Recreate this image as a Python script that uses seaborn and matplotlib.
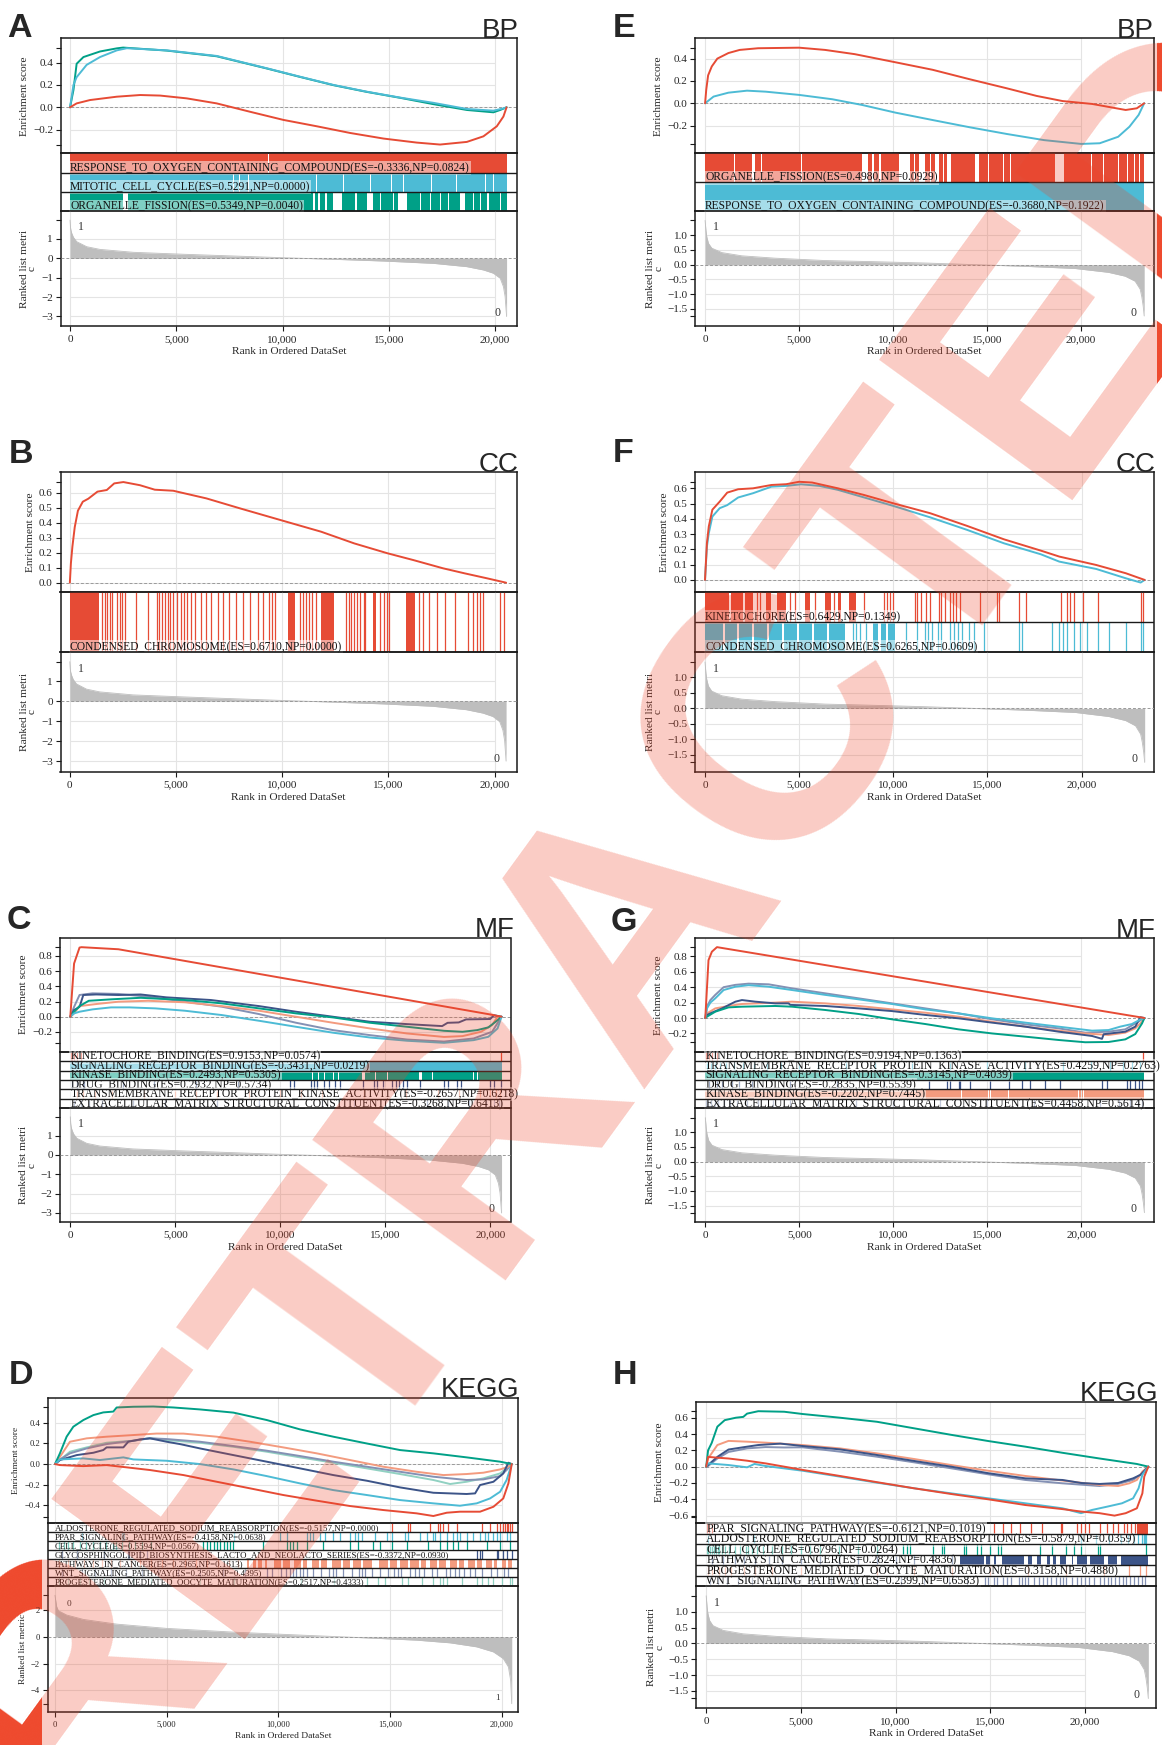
import numpy as np
import pandas as pd
import seaborn as sns
import matplotlib
matplotlib.use("Agg")
import matplotlib.pyplot as plt
from matplotlib.patches import Rectangle

sns.set_theme(style="white")
plt.rcParams["font.family"] = ["Liberation Serif", "DejaVu Serif"]
plt.rcParams["axes.unicode_minus"] = True

W, H = 1162, 1745
RED, BLUE, GREEN, NAVY, SALMON, LAV, MINT = ("#E64B35", "#4DBBD5", "#00A087", "#3C5488",
                                             "#F39B7F", "#8491B4", "#91D1C2")

# ---------------------------------------------------------------- ranked list metrics
METRIC1_rank = [0, 20, 40, 80, 160, 310, 780, 1410, 2980, 5330, 7690, 10040, 12390, 14750,
                17100, 18670, 19450, 19920, 20240, 20390, 20470, 20540]
METRIC1_val = [1.97, 1.6, 1.45, 1.29, 1.08, 0.86, 0.6, 0.46, 0.31, 0.21, 0.12, 0.03, -0.05, -0.14,
               -0.26, -0.43, -0.6, -0.77, -1.03, -1.46, -1.97, -3.0]
METRIC2_rank = [0, 45, 90, 180, 355, 890, 1950, 3720, 6380, 9040, 11700, 14360, 17020, 19680,
                21450, 22340, 22870, 23140, 23230, 23300, 23355]
METRIC2_val = [1.5, 1.15, 0.94, 0.72, 0.56, 0.41, 0.3, 0.22, 0.14, 0.1, 0.056, 0.0, -0.056, -0.13,
               -0.26, -0.39, -0.56, -0.83, -1.1, -1.4, -1.74]
METRICD_rank = [0, 40, 75, 150, 520, 1270, 2760, 5000, 7990, 10970, 13960, 16190, 17690, 18880,
                19630, 20070, 20300, 20400, 20450]
METRICD_val = [3.1, 2.6, 2.25, 1.95, 1.63, 1.3, 0.95, 0.63, 0.35, 0.13, -0.08, -0.25, -0.45, -0.75,
               -1.13, -1.63, -2.25, -3.25, -5.0]

# ---------------------------------------------------------------- panel A (BP)
A_es_response = [(0, 0), (310, 0.035), (940, 0.065), (2200, 0.095), (3300, 0.11), (4240, 0.105),
                 (5490, 0.08), (6900, 0.035), (8470, -0.04), (10040, -0.113), (11610, -0.17),
                 (13180, -0.23), (14750, -0.28), (16310, -0.316), (17410, -0.3336), (18670, -0.31),
                 (19450, -0.26), (20080, -0.17), (20390, -0.083), (20540, 0)]
A_es_mitotic = [(0, 0), (160, 0.2), (310, 0.27), (780, 0.38), (1410, 0.45), (2200, 0.51),
                (2670, 0.5291), (4550, 0.51), (6900, 0.46), (9250, 0.35), (10800, 0.275),
                (12400, 0.2), (13960, 0.14), (15530, 0.087), (17100, 0.04), (18670, -0.015),
                (19920, -0.03), (20390, -0.01), (20540, 0)]
A_es_organelle = [(0, 0), (160, 0.155), (310, 0.39), (630, 0.45), (1410, 0.5), (2200, 0.528),
                  (2500, 0.5349), (4550, 0.508), (6900, 0.457), (9250, 0.348), (10800, 0.273),
                  (12400, 0.198), (13960, 0.138), (15530, 0.085), (17100, 0.028), (18670, -0.024),
                  (19920, -0.045), (20240, -0.024), (20540, 0)]
A_gaps_response = [(9300, 9350)]
A_gaps_mitotic = [(7670, 7710), (7950, 7990), (8370, 8410), (11590, 11640), (12840, 12880),
                  (14100, 14140), (15120, 15160), (15670, 15710), (17000, 17040), (17390, 17430),
                  (18180, 18220), (19510, 19550), (19900, 19940)]
A_gaps_organelle = [(2510, 2745), (11420, 11530), (11690, 11765), (12000, 12080), (12390, 12780),
                    (13410, 13490), (13960, 14270), (14590, 14635), (15180, 15250), (15450, 15840),
                    (16470, 16520), (16940, 16970), (17410, 17460), (17800, 17850), (18350, 18590),
                    (18980, 19030), (19300, 19330), (19640, 19690), (20240, 20290)]

# ---------------------------------------------------------------- panel B (CC)
B_es_condensed = [(0, 0), (50, 0.13), (120, 0.24), (230, 0.37), (380, 0.48), (610, 0.54),
                  (870, 0.56), (1300, 0.607), (1740, 0.618), (2090, 0.662), (2520, 0.671),
                  (3300, 0.65), (4000, 0.62), (4870, 0.613), (6430, 0.562), (8000, 0.496),
                  (9910, 0.418), (11830, 0.34), (13390, 0.262), (14960, 0.196), (16170, 0.151),
                  (17570, 0.096), (18600, 0.062), (19650, 0.029), (20540, 0)]
B_hits_condensed = [(0, 1390), 1530, 1650, 1740, 1880, 2000, 2230, 2350, 2470, 2610, 3100, 3690,
                    4090, 4210, 4350, 4470, 4610, 4730, 4870, 5040, 5220, 5360, 5530, 5700, 5880,
                    6170, 6430, 6640, 6960, 7220, 7480, 7830, 8170, 8490, 8870, 9080, 9390, 9510,
                    9650, (10260, 10610), 10820, 10960, 11130, 11270, 11390, 11570, (11830, 12430),
                    13010, 13130, 13250, 13390, 13500, 13650, 13830, 13910, (14260, 14430), 14610,
                    14780, 14920, 15040, (15830, 16260), 16430, 16610, 16900, 17300, 17650, 18120,
                    18750, 18960, 19170, 19300, 19440, 20260, 20430]

# ---------------------------------------------------------------- panel C (MF)
C_es_kinetochore = [(0, 0), (180, 0.70), (440, 0.91), (530, 0.9153), (2290, 0.888), (20000, 0.03),
                    (20540, 0)]
C_es_signaling = [(0, 0), (180, 0.044), (440, 0.066), (1060, 0.097), (1940, 0.123), (2820, 0.123),
                  (4050, 0.11), (5460, 0.079), (7220, 0.022), (8990, -0.053), (10750, -0.132),
                  (12510, -0.21), (14270, -0.273), (16040, -0.316), (17800, -0.3431),
                  (19210, -0.308), (19910, -0.264), (20350, -0.154), (20540, 0)]
C_es_kinase = [(0, 0), (180, 0.066), (440, 0.14), (880, 0.21), (1940, 0.229), (3350, 0.2493),
               (5460, 0.22), (7220, 0.176), (8990, 0.11), (10750, 0.044), (12510, -0.009),
               (14270, -0.079), (16040, -0.132), (17800, -0.185), (18680, -0.198), (19380, -0.176),
               (19910, -0.14), (20260, -0.066), (20540, 0)]
C_es_drug = [(0, 0), (180, 0.088), (440, 0.13), (620, 0.286), (1230, 0.2932), (2290, 0.286),
             (3350, 0.293), (4580, 0.255), (6700, 0.22), (8990, 0.14), (10750, 0.066), (12510, 0.0),
             (14270, -0.066), (16040, -0.097), (17710, -0.123), (17970, -0.08), (18500, -0.075),
             (18850, -0.035), (20000, -0.03), (20180, 0.02), (20540, 0)]
C_es_transmembrane = [(0, 0), (180, 0.044), (440, 0.14), (1230, 0.167), (2290, 0.198),
                      (3700, 0.21), (5460, 0.19), (7220, 0.14), (8990, 0.079), (10750, 0.0),
                      (12510, -0.079), (14270, -0.154), (16040, -0.22), (17800, -0.2657),
                      (18680, -0.255), (19560, -0.198), (20090, -0.11), (20350, 0), (20540, 0)]
C_es_extracellular = [(0, 0), (180, 0.13), (440, 0.286), (1060, 0.308), (2290, 0.3), (3700, 0.264),
                      (5460, 0.198), (7220, 0.132), (8990, 0.035), (10750, -0.079),
                      (12510, -0.176), (14270, -0.242), (16040, -0.3), (17800, -0.3268),
                      (19210, -0.286), (20090, -0.198), (20440, -0.044), (20540, 0)]
C_hits_kinetochore = [20, 80, 180, 330, 520, 20510]
C_gaps_signaling = []
C_gaps_kinase = [(11520, 11570), (11790, 11840), (12100, 12150), (12490, 12540), (12760, 12800),
                 (13900, 14020), (14520, 14560), (15100, 15140), (16630, 16750), (17250, 17290),
                 (19190, 19230), (19360, 19400), (19540, 19580)]
C_hits_drug = [100, 300, 600, 650, 2500, 4000, 6000, 8000, 10480, 10660, 11450, 11630, 11770,
               12070, 12330, 12600, 12860, 13920, 14450, 14630, 14890, 15330, 15510, 15680, 15860,
               16040, 16650, 17800, 17970, 18410, 18590, 20000, 20180, 20530]
C_hits_transmembrane = [300, 600, 1200, 2000, 3500, 5000, 6000, 7000, 8500, 10000, 11000, 12000,
                        14000, 16000, 17500, 18500, 19500, 20000, 20300, 20450]
C_hits_extracellular = [200, 500, 900, 1500, 3000, 4500, 7000, 9000, 12000, 13500, 15000, 17000,
                        18000, 19000, 19800, 20200, 20400, 20500]

# ---------------------------------------------------------------- panel D (KEGG)
D_es_aldosterone = [(0, 0), (220, -0.01), (1270, -0.02), (2310, -0.01), (3210, -0.032),
                    (4250, -0.058), (5750, -0.107), (7240, -0.172), (8730, -0.236), (10220, -0.301),
                    (11720, -0.356), (13210, -0.408), (14700, -0.447), (16190, -0.479),
                    (16940, -0.505), (17540, -0.473), (18130, -0.463), (19030, -0.463),
                    (19630, -0.415), (20070, -0.334), (20300, -0.188), (20450, 0)]
D_es_ppar = [(0, 0), (220, 0.045), (1270, 0.055), (2010, 0.039), (3060, 0.065), (3510, 0.045),
             (5000, 0.032), (6490, 0.0), (7990, -0.052), (9480, -0.117), (10970, -0.188),
             (12460, -0.253), (13960, -0.301), (15450, -0.35), (16940, -0.382), (18130, -0.405),
             (18880, -0.382), (19480, -0.334), (19930, -0.269), (20220, -0.155), (20450, 0)]
D_es_cellcycle = [(0, 0), (220, 0.104), (520, 0.266), (820, 0.363), (1270, 0.428), (1720, 0.476),
                  (2160, 0.502), (2610, 0.51), (2760, 0.55), (3510, 0.557), (4400, 0.5594),
                  (5300, 0.55), (6490, 0.531), (7990, 0.5), (9480, 0.428), (10970, 0.337),
                  (12460, 0.266), (13960, 0.2), (15450, 0.136), (16940, 0.104), (18430, 0.065),
                  (19930, 0.023), (20450, 0)]
D_es_glyco = [(0, 0), (220, 0.039), (970, 0.087), (1720, 0.11), (2160, 0.136), (2310, 0.162),
              (3060, 0.162), (3280, 0.217), (3810, 0.24), (4250, 0.25), (5000, 0.217),
              (5600, 0.194), (6490, 0.152), (7990, 0.087), (9480, 0.023), (10970, -0.042),
              (12460, -0.107), (13960, -0.162), (15450, -0.227), (16940, -0.279), (18430, -0.291),
              (18810, -0.285), (19030, -0.204), (19630, -0.172), (20070, -0.091), (20300, 0.013),
              (20450, 0)]
D_es_pathways = [(0, 0), (220, 0.07), (670, 0.217), (1420, 0.25), (2310, 0.266), (3510, 0.282),
                 (4550, 0.2965), (5750, 0.296), (7240, 0.266), (8730, 0.217), (10220, 0.162),
                 (11720, 0.104), (13210, 0.039), (14700, -0.026), (16190, -0.075), (17390, -0.107),
                 (18430, -0.097), (19180, -0.084), (19930, -0.052), (20300, -0.026), (20450, 0)]
D_es_wnt = [(0, 0), (220, 0.045), (670, 0.104), (1420, 0.152), (2310, 0.194), (3510, 0.227),
            (4250, 0.2505), (5000, 0.243), (6490, 0.217), (7990, 0.175), (9480, 0.13),
            (10970, 0.078), (12460, 0.023), (13960, -0.026), (15450, -0.075), (16940, -0.123),
            (18430, -0.155), (19180, -0.149), (19930, -0.117), (20220, -0.058), (20450, 0)]
D_es_progesterone = [(0, 0), (220, 0.039), (670, 0.12), (1420, 0.162), (2310, 0.207),
                     (3510, 0.227), (4250, 0.2517), (5000, 0.233), (6490, 0.207), (7990, 0.168),
                     (9480, 0.12), (10970, 0.065), (12460, 0.013), (13960, -0.042), (15450, -0.097),
                     (16940, -0.155), (17690, -0.194), (18430, -0.172), (19180, -0.139),
                     (19930, -0.091), (20450, 0)]
D_hits_aldosterone = [15070, 15820, 15900, 16790, 17160, 17240, 17390, 17610, 17990, 19100, 19480,
                      19780, 19930, 20070, 20150, 20220, 20300, 20370, 20450]
D_hits_ppar = [1200, 3000, 3050, 3100, 8000, 10070, 10370, 11270, 11420, 11570, 11870, 12090,
               12460, 12760, 13210, 13430, 13580, 13730, 14330, 14850, 15070, 15670, 15820, 16340,
               16640, 16940, 17010, 17240, 17540, 17840, 17990, 18130, 18430, 18730, 19030, 19250,
               19400, 19630, 19780, 19930, 20220, 20370]
D_hits_cellcycle = [200, 400, 600, 800, 1100, 1400, 1700, 2000, 2300, 2600, 2750, 3000, 3300,
                    3600, 3900, 4300, 6640, 6800, 6950, 7100, 7250, 7400, 7550, 7700, 7850, 7990,
                    9330, 10370, 10520, 10670, 10820, 11270, 12010, 13210, 13580, 14250, 14550,
                    15070, 15750, 16720, 17240, 17540, 17840, 18060, 18430, 19330, 19930, 20370]
D_hits_glyco = [300, 1000, 2200, 3250, 3300, 3800, 4100, 18880, 19030, 19100, 19780, 19850, 20070,
                20220, 20450]
D_hits_pathways = [200, 600, 900, 1300, 1700, 2100, 2500, 2900, 3400, 3800, 4300, 4800, 5300,
                   5800, 6300, 6800, 7300, 7800, 8200, (8580, 8700), (8850, 9000), (9100, 9250),
                   (9400, 9500), (9800, 10100), (10200, 10500), (10700, 11000), (11100, 11300),
                   (11500, 11800), (11900, 12200), (12400, 12800), (12900, 13200), (13350, 13700),
                   (13800, 14200), (14500, 14900), (15000, 15300), (15450, 15800), (15900, 16300),
                   (16400, 16600), (16800, 17100), (17200, 17500), (17700, 18000), (18100, 18300),
                   (18500, 18800), (18900, 19100), (19300, 19550), (19650, 19800), (20000, 20200),
                   (20300, 20450)]
D_hits_wnt = [300, 700, 1200, 1800, 2500, 3200, 3900, 4600, 5500, 6500, 7500, 8500, 9500, 9700,
              10100, 10350, 10500, 10650, 10800, 10950, 11100, 11300, 11550, 11900, 12250, 12450,
              12600, 12900, 13300, 13600, 13750, 13900, 14200, 14550, 14900, 15200, 15350, 15500,
              15900, 16100, 16300, 16500, 16900, 17100, 17500, 17700, 17900, 18100, 18300, 18600,
              18800, 19100, 19500, 19800, 20100, 20300]
D_hits_progesterone = [200, 600, 1100, 1500, 2200, 2800, 3500, 4300, 5200, 6500, 8000, 9500,
                       11000, 12500, 13960, 14480, 14780, 15520, 15820, 16420, 16940, 17240, 17390,
                       17540, 18210, 18880, 19100, 19400, 19630, 20000, 20370, 20450]

# ---------------------------------------------------------------- panel E (BP)
E_es_organelle = [(0, 0), (60, 0.12), (160, 0.25), (355, 0.33), (650, 0.40), (1240, 0.45),
                  (1840, 0.478), (2820, 0.493), (5000, 0.498), (6380, 0.478), (7960, 0.44),
                  (10130, 0.367), (12100, 0.3), (14080, 0.215), (16050, 0.134), (17630, 0.066),
                  (19010, 0.02), (20590, -0.006), (21580, -0.036), (22370, -0.06), (22960, -0.045),
                  (23355, 0)]
E_es_response = [(0, 0), (450, 0.06), (1240, 0.095), (2230, 0.113), (3220, 0.104), (5000, 0.075),
                 (6770, 0.036), (8350, -0.015), (10130, -0.084), (12100, -0.15), (14080, -0.215),
                 (16050, -0.275), (18030, -0.33), (20000, -0.364), (20990, -0.358), (21970, -0.3),
                 (22570, -0.21), (23060, -0.104), (23355, 0)]
E_gaps_organelle = [(1520, 1580), (2500, 2650), (2950, 3000), (5100, 5150), (8350, 8650),
                    (8900, 8980), (9250, 9350), (10300, 10900), (11100, 11180), (11400, 11700),
                    (11950, 12020), (12250, 12450), (12650, 12700), (12850, 13100), (14350, 14550),
                    (15050, 15120), (15850, 15920), (16200, 16260), (18600, 19100), (20550, 20600),
                    (21150, 21200), (21950, 22000), (22450, 22520), (22800, 22850), (23100, 23150)]
E_gaps_response = []

# ---------------------------------------------------------------- panel F (CC)
F_es_kinetochore = [(0, 0), (100, 0.24), (200, 0.35), (390, 0.46), (780, 0.513), (1180, 0.572),
                    (1760, 0.594), (2550, 0.6), (3530, 0.622), (4310, 0.627), (5000, 0.6429),
                    (5690, 0.638), (7060, 0.6), (8430, 0.557), (10000, 0.502), (11960, 0.437),
                    (13920, 0.354), (15880, 0.266), (17840, 0.192), (18820, 0.153), (20780, 0.098),
                    (22350, 0.044), (23355, 0.0)]
F_es_condensed = [(0, 0), (100, 0.218), (200, 0.306), (390, 0.415), (780, 0.47), (1180, 0.49),
                  (1760, 0.54), (2550, 0.568), (3530, 0.611), (4310, 0.616), (5100, 0.6265),
                  (6080, 0.616), (7060, 0.59), (8430, 0.541), (10000, 0.485), (11960, 0.41),
                  (13920, 0.328), (15880, 0.24), (17840, 0.168), (18820, 0.12), (20780, 0.072),
                  (22350, 0.011), (23140, -0.017), (23355, 0)]
F_hits_kinetochore = [(0, 1250), (1400, 2000), (2150, 2550), 2750, 2940, (3240, 3530), (3820, 4310),
                      4510, 4800, (5290, 5590), 5840, (6370, 6670), 6860, (7060, 7250), (7650, 8040),
                      8430, 9510, 9650, 9800, 9960, 11180, 11270, 11470, 11760, 11960, 12450, 12550,
                      12750, 13040, 13180, 13330, 13530, 14610, 15490, 15590, 16670, 17060, 18920,
                      19220, 19410, 19610, 20100, 20880, 23140, 23290]
F_hits_condensed = [(0, 950), (1050, 1700), (1800, 2500), (2600, 3300), (3400, 4100), (4200, 4900),
                    (5000, 5700), (5800, 6500), (6600, 7450), 7840, 8040, 8240, 8530, (8920, 9200),
                    (9350, 9600), (9700, 10100), 10690, 11270, 11670, 11860, 12060, 12350, 12550,
                    13040, 13240, 13430, 13630, 14020, 14310, 14800, 16670, 16860, 18430, 18820,
                    19020, 19220, 19610, 19900, 20290, 20880, 21470, 22350, 23140, 23290]

# ---------------------------------------------------------------- panel G (MF)
G_es_kinetochore = [(0, 0), (170, 0.75), (350, 0.86), (620, 0.9194), (23000, 0.015), (23355, 0)]
G_es_transmembrane = [(0, 0), (90, 0.125), (270, 0.2), (530, 0.255), (975, 0.363), (1600, 0.406),
                      (2300, 0.4259), (3370, 0.406), (4610, 0.363), (6380, 0.3), (8160, 0.242),
                      (9930, 0.182), (11700, 0.112), (13470, 0.06), (15250, -0.004),
                      (17020, -0.06), (18790, -0.112), (20570, -0.164), (21450, -0.156),
                      (22070, -0.112), (22690, -0.078), (23140, -0.02), (23355, 0)]
G_es_signaling = [(0, 0), (90, 0.017), (530, 0.082), (1240, 0.138), (1950, 0.147), (3720, 0.156),
                  (4610, 0.147), (6380, 0.104), (8160, 0.052), (9930, -0.017), (11700, -0.078),
                  (13470, -0.147), (15250, -0.2), (17020, -0.242), (18790, -0.285),
                  (20210, -0.3145), (21450, -0.311), (22340, -0.277), (22870, -0.208),
                  (23230, -0.07), (23355, 0)]
G_es_drug = [(0, 0), (90, 0.04), (355, 0.07), (890, 0.125), (1600, 0.212), (1950, 0.233),
             (2660, 0.212), (3720, 0.19), (4430, 0.19), (4520, 0.17), (6380, 0.156), (8160, 0.125),
             (9930, 0.09), (11700, 0.04), (13470, -0.004), (15250, -0.06), (17020, -0.112),
             (18790, -0.177), (20570, -0.233), (21100, -0.27), (21190, -0.21), (22340, -0.177),
             (22870, -0.112), (23140, 0.01), (23355, 0)]
G_es_kinase = [(0, 0), (90, 0.06), (530, 0.125), (1240, 0.156), (1950, 0.182), (3720, 0.2),
               (4610, 0.212), (6380, 0.19), (8160, 0.156), (9930, 0.112), (11700, 0.069),
               (13470, 0.017), (15250, -0.048), (17020, -0.112), (18790, -0.164), (20210, -0.2),
               (21450, -0.2202), (22340, -0.19), (22870, -0.134), (23230, -0.048), (23355, 0)]
G_es_extracellular = [(0, 0), (90, 0.147), (270, 0.233), (530, 0.3), (975, 0.4), (1600, 0.43),
                      (2300, 0.4458), (3370, 0.437), (4610, 0.385), (6380, 0.32), (8160, 0.255),
                      (9930, 0.19), (11700, 0.125), (13470, 0.06), (15250, -0.017),
                      (17020, -0.082), (18790, -0.134), (20210, -0.19), (21450, -0.177),
                      (22340, -0.147), (22870, -0.07), (23355, 0)]
G_hits_kinetochore = [30, 100, 200, 350, 620, 23300]
G_hits_transmembrane = [100, 300, 500, 800, 1100, 1500, 2000, 2600, 3300, 4000, 5000, 6000, 7500,
                        9000, 11000, 13000, 15000, 17000, 19000, 20500, 21500, 22200, 22700, 23100]
G_gaps_signaling = []
G_hits_drug = [200, 600, 900, 1400, 1800, 2500, 4500, 7000, 9500, 11880, 12850, 13030, 13480,
               13560, 14100, 15160, 16130, 16840, 17290, 18090, 18880, 21100, 21360, 22430, 22610,
               22870, 23050, 23230]
G_gaps_kinase = [(13620, 13680), (15040, 15100), (15140, 15190), (16100, 16160), (19830, 19890),
                 (19970, 20030), (20090, 20150)]
G_hits_extracellular = [50, 150, 300, 500, 700, 1000, 1300, 1700, 2200, 2800, 3600, 4500, 6000,
                        8000, 10000, 12500, 15000, 17500, 19500, 21000, 22000, 22600, 23000, 23250]

# ---------------------------------------------------------------- panel H (KEGG)
H_es_ppar = [(0, 0), (100, 0.12), (590, 0.11), (1180, 0.1), (2160, 0.073), (3140, 0.04),
             (5100, -0.04), (7060, -0.114), (9020, -0.19), (10980, -0.265), (12940, -0.335),
             (14900, -0.4), (16860, -0.47), (18820, -0.52), (19800, -0.55), (20780, -0.57),
             (21570, -0.6), (22160, -0.57), (22750, -0.51), (23040, -0.327), (23140, -0.122),
             (23355, 0)]
H_es_aldosterone = [(0, 0), (100, 0.04), (1180, 0.02), (2160, -0.008), (2550, 0.033),
                    (3140, 0.008), (5100, -0.05), (7060, -0.122), (9020, -0.196), (10980, -0.265),
                    (12940, -0.327), (14900, -0.388), (16860, -0.449), (18820, -0.51),
                    (19800, -0.57), (20390, -0.53), (21180, -0.49), (21960, -0.449),
                    (22550, -0.388), (22840, -0.265), (23040, -0.1), (23355, 0)]
H_es_cellcycle = [(0, 0), (100, 0.2), (290, 0.29), (590, 0.49), (980, 0.57), (1570, 0.6),
                  (1960, 0.61), (2160, 0.65), (2750, 0.6796), (4120, 0.673), (5100, 0.645),
                  (7060, 0.6), (9020, 0.55), (10980, 0.47), (12940, 0.39), (14900, 0.314),
                  (16860, 0.245), (18820, 0.17), (20780, 0.1), (22750, 0.033), (23355, 0)]
H_es_pathways = [(0, 0), (100, 0.02), (590, 0.12), (1180, 0.21), (2160, 0.245), (2750, 0.265),
                 (3920, 0.2824), (5100, 0.253), (7060, 0.212), (9020, 0.143), (10980, 0.07),
                 (12940, 0.0), (14900, -0.08), (16860, -0.143), (18820, -0.163), (19800, -0.2),
                 (20780, -0.212), (21760, -0.2), (22550, -0.143), (22940, -0.1), (23355, 0)]
H_es_progesterone = [(0, 0), (100, 0.1), (590, 0.265), (1180, 0.3158), (2160, 0.306),
                     (3140, 0.294), (5100, 0.265), (7060, 0.224), (9020, 0.163), (10980, 0.094),
                     (12940, 0.02), (14900, -0.05), (16860, -0.114), (18820, -0.17),
                     (20780, -0.224), (21760, -0.237), (22350, -0.204), (22750, -0.163),
                     (23040, -0.06), (23355, 0)]
H_es_wnt = [(0, 0), (100, 0.008), (590, 0.1), (1180, 0.18), (2160, 0.224), (3140, 0.2399),
            (4120, 0.235), (5100, 0.237), (7060, 0.184), (9020, 0.122), (10980, 0.053),
            (12940, -0.02), (14900, -0.094), (16860, -0.163), (18820, -0.204), (20780, -0.237),
            (21760, -0.212), (22550, -0.163), (23040, -0.08), (23355, 0)]
H_hits_ppar = [50, 150, 300, 15200, 15690, 16080, 16570, 17160, 17750, 18730, 18820, 19610, 19800,
               20000, 20200, 20780, 21180, 21470, 21760, 22060, 22250, 22450, 22650, (22750, 23330)]
H_hits_aldosterone = [100, 2500, 2550, 19800, 20600, 21300, 21900, 22300, 22600, 22800, 23000,
                      23100, 23140, 23200, 23240]
H_hits_cellcycle = [50, 100, 200, 300, 400, 500, 600, 700, 850, 1000, 1200, 1500, 1800, 2100,
                    2200, 2400, 2700, 3000, 3500, 4000, 4500, 5000, 5500, 6000, 7000, 8000, 9000,
                    10390, 10590, 10780, 11960, 12450, 12550, 13630, 13730, 14310, 14510, 15000,
                    15390, 15590, 17650, 18240, 19020, 19410, 19800, 20690, 20780, 23240]
H_hits_pathways = [300, 900, 1500, 2000, 2600, 3300, 4000, 5000, 6000, 7000, 8000, 9000, 10000,
                   11000, 12000, 13000, (13430, 14700), (14800, 15000), (15200, 15300),
                   (15600, 16800), (17000, 17200), (17500, 17700), (18000, 18150), (18300, 18500),
                   (18700, 19000), (19300, 19400), (19600, 20100), (20300, 21000), (21200, 21700),
                   (21900, 23330)]
H_hits_progesterone = [100, 300, 700, 1000, 1300, 2000, 2600, 3500, 5000, 7000, 9000, 11000,
                       13000, 15000, 17000, 19000, 21000, 22350, 22940, 23240]
H_hits_wnt = [200, 600, 1100, 1700, 2400, 3000, 3800, 4700, 5600, 6600, 7800, 9000, 10300, 11500,
              12800, 13800, 14710, 14900, 15200, 15350, 15700, 15900, 16100, 16500, 16700, 16850,
              17000, 17300, 17600, 17800, 18000, 18200, 18500, 18700, 18850, 19000, 19300, 19600,
              19800, 20000, 20200, 20500, 20800, 21000, 21200, 21400, 21600, 21800, 22000, 22200,
              22400, 22600, 22800, 23000, 23200]

X_TICKS = [0, 5000, 10000, 15000, 20000]

# ---------------------------------------------------------------- helpers
fig = plt.figure(figsize=(W / 100, H / 100), dpi=100)
fig.patch.set_facecolor("white")


def rect(x0, y0, x1, y1):
    return [x0 / W, 1 - y1 / H, (x1 - x0) / W, (y1 - y0) / H]


def fmt(v, nd):
    s = f"{v:.{nd}f}"
    if s.startswith("-"):
        s = "\u2212" + s[1:]
    return s


def style_axes(ax):
    ax.set_facecolor("none")
    for s in ax.spines.values():
        s.set_color("#1a1a1a")
        s.set_linewidth(1.1)
        s.set_visible(True)
    ax.tick_params(axis="both", which="both", direction="out", length=3.5, width=0.8,
                   color="#1a1a1a", pad=2, left=True, bottom=False)


def draw_panel(p):
    x0, x1 = p["fx"]
    yt, yes, yhit, ymet = p["fy"]
    small = p.get("small", False)
    fs_tick = 6.2 if small else 8
    fs_lab = 6.8 if small else 8.2
    fs_row = p["fs_row"]
    N = p["N"]

    ax_es = fig.add_axes(rect(x0, yt, x1, yes))
    ax_hit = fig.add_axes(rect(x0, yes, x1, yhit))
    ax_met = fig.add_axes(rect(x0, yhit, x1, ymet))
    for ax in (ax_es, ax_hit, ax_met):
        style_axes(ax)
        ax.set_xlim(*p["xlim"])

    # ---------------- enrichment score panel
    ax_es.set_ylim(*p["es_ylim"])
    ax_es.hlines(p["es_ticks"], 0, 20000, color="#E4E4E4", lw=0.8, zorder=0)
    for xt in X_TICKS:
        ax_es.axvline(xt, color="#E4E4E4", lw=0.8, zorder=0)
    ax_es.axhline(0, color="#9A9A9A", lw=0.7, ls=(0, (3, 2)), zorder=1)
    for name, es, npv, color, curve, hits in reversed(p["sets"]):
        df = pd.DataFrame(curve, columns=["rank", "es"])
        sns.lineplot(data=df, x="rank", y="es", ax=ax_es, color=color, lw=1.4,
                     sort=False, estimator=None, zorder=3)
    ax_es.set_xticks([])
    yt_all = list(p["es_ticks"]) + list(p["es_extra"])
    ax_es.set_yticks(yt_all)
    ax_es.set_yticklabels([fmt(v, 1) for v in p["es_ticks"]] + [""] * len(p["es_extra"]),
                          fontsize=fs_tick)
    ax_es.set_xlabel("")
    ax_es.set_ylabel("Enrichment score", fontsize=fs_lab, labelpad=3)

    # ---------------- hits panel
    n = len(p["sets"])
    ax_hit.set_ylim(0, n)
    ax_hit.set_xticks([])
    ax_hit.set_yticks([])
    for xt in X_TICKS:
        ax_hit.axvline(xt, color="#E4E4E4", lw=0.8, zorder=0)
    row_px = (yhit - yes) / n
    for i, (name, es, npv, color, curve, hits) in enumerate(p["sets"]):
        yb = n - 1 - i
        kind, data = hits
        if kind == "gaps":
            spans, start = [], 0
            for a, b in sorted(data):
                if a > start:
                    spans.append((start, a - start))
                start = b
            if start < N:
                spans.append((start, N - start))
            ax_hit.broken_barh(spans, (yb, 1), facecolors=color, edgecolor="none", lw=0, zorder=1)
        else:
            singles = [v for v in data if not isinstance(v, tuple)]
            blocks = [(v[0], v[1] - v[0]) for v in data if isinstance(v, tuple)]
            if singles:
                ax_hit.vlines(singles, yb, yb + 1, colors=color, lw=0.9, zorder=1)
            if blocks:
                ax_hit.broken_barh(blocks, (yb, 1), facecolors=color, edgecolor="none", lw=0,
                                   zorder=1)
        label = f"{name}(ES={es},NP={npv})"
        ax_hit.text(0, yb + 1.5 / row_px, label, fontsize=fs_row, color="#111111",
                    ha="left", va="baseline", zorder=4,
                    bbox=dict(boxstyle="square,pad=0.08", fc="white", ec="none", alpha=0.5))
        if i > 0:
            ax_hit.axhline(yb + 1, color="#1a1a1a", lw=1.0, zorder=5)

    # ---------------- ranked list metric panel
    mr, mv = p["metric"]
    ax_met.set_ylim(*p["met_ylim"])
    ax_met.hlines(p["met_ticks"], 0, 20000, color="#E4E4E4", lw=0.8, zorder=0)
    for xt in X_TICKS:
        ax_met.axvline(xt, color="#E4E4E4", lw=0.8, zorder=0)
    ax_met.fill_between(mr, 0, mv, color="#BEBEBE", lw=0, zorder=2)
    sns.lineplot(x=mr, y=mv, ax=ax_met, color="#BEBEBE", lw=0.6, sort=False, estimator=None,
                 zorder=2)
    ax_met.axhline(0, color="#9A9A9A", lw=0.7, ls=(0, (3, 2)), zorder=3)
    ax_met.set_yticks(list(p["met_ticks"]) + list(p["met_extra"]))
    ax_met.set_yticklabels([fmt(v, p["met_nd"]) for v in p["met_ticks"]] +
                           [""] * len(p["met_extra"]), fontsize=fs_tick)
    ax_met.tick_params(axis="x", bottom=True, length=3.5, width=0.8, pad=3)
    ax_met.set_xticks(X_TICKS)
    ax_met.set_xticklabels([f"{v:,}" for v in X_TICKS], fontsize=fs_tick)
    ax_met.set_xlabel("Rank in Ordered DataSet", fontsize=fs_lab, labelpad=2)
    ax_met.set_ylabel(p["met_label"], fontsize=fs_lab, labelpad=3, linespacing=0.9)
    top_txt, bot_txt = p["met_ends"]
    ax_met.text(0.045, 0.86, top_txt, transform=ax_met.transAxes, fontsize=fs_tick + 0.5,
                color="#333333", ha="center", va="center", zorder=4)
    ax_met.text(0.957, 0.11, bot_txt, transform=ax_met.transAxes, fontsize=fs_tick + 0.5,
                color="#333333", ha="center", va="center", zorder=4)

    # ---------------- panel letter and category title
    lx, ly = p["letter_xy"]
    fig.text(lx / W, 1 - ly / H, p["letter"], fontsize=24.5, fontweight="bold",
             family=["Liberation Sans", "DejaVu Sans"], ha="left", va="baseline", zorder=6)
    tx, ty = p["title_xy"]
    fig.text(tx / W, 1 - ty / H, p["title"], fontsize=p.get("title_fs", 20),
             family=["Liberation Sans", "DejaVu Sans"], ha="right", va="baseline", zorder=6)


M1 = (METRIC1_rank, METRIC1_val)
M2 = (METRIC2_rank, METRIC2_val)
MD = (METRICD_rank, METRICD_val)
ML = "Ranked list metri\nc"

panels = [
    dict(letter="A", letter_xy=(7, 37), title="BP", title_xy=(519, 38),
         fx=(60.7, 517), fy=(38.3, 153.3, 211, 326), xlim=(-440, 21030), N=20540, fs_row=8.3,
         sets=[("RESPONSE_TO_OXYGEN_CONTAINING_COMPOUND", "-0.3336", "0.0824", RED, A_es_response,
                ("gaps", A_gaps_response)),
               ("MITOTIC_CELL_CYCLE", "0.5291", "0.0000", BLUE, A_es_mitotic,
                ("gaps", A_gaps_mitotic)),
               ("ORGANELLE_FISSION", "0.5349", "0.0040", GREEN, A_es_organelle,
                ("gaps", A_gaps_organelle))],
         es_ylim=(-0.412, 0.618), es_ticks=[-0.2, 0.0, 0.2, 0.4], es_extra=[0.5349, -0.3336],
         metric=M1, met_ylim=(-3.49, 2.44), met_ticks=[-3, -2, -1, 0, 1], met_extra=[1.97],
         met_nd=0, met_label=ML, met_ends=("1", "0")),
    dict(letter="B", letter_xy=(9, 463), title="CC", title_xy=(519, 472),
         fx=(60.5, 516.5), fy=(472.3, 591.7, 651.7, 771.7), xlim=(-440, 21030), N=20540,
         fs_row=8.3,
         sets=[("CONDENSED_CHROMOSOME", "0.6710", "0.0000", RED, B_es_condensed,
                ("marks", B_hits_condensed))],
         es_ylim=(-0.06, 0.736), es_ticks=[0.0, 0.1, 0.2, 0.3, 0.4, 0.5, 0.6], es_extra=[0.671],
         metric=M1, met_ylim=(-3.53, 2.47), met_ticks=[-3, -2, -1, 0, 1], met_extra=[1.97],
         met_nd=0, met_label=ML, met_ends=("1", "0")),
    dict(letter="C", letter_xy=(7, 929), title="MF", title_xy=(515, 937),
         fx=(60.3, 510.5), fy=(937.7, 1051.7, 1108.3, 1221.7), xlim=(-476, 20967), N=20540,
         fs_row=8.3,
         sets=[("KINETOCHORE_BINDING", "0.9153", "0.0574", RED, C_es_kinetochore,
                ("marks", C_hits_kinetochore)),
               ("SIGNALING_RECEPTOR_BINDING", "-0.3431", "0.0219", BLUE, C_es_signaling,
                ("gaps", C_gaps_signaling)),
               ("KINASE_BINDING", "0.2493", "0.5305", GREEN, C_es_kinase, ("gaps", C_gaps_kinase)),
               ("DRUG_BINDING", "0.2932", "0.5734", NAVY, C_es_drug, ("marks", C_hits_drug)),
               ("TRANSMEMBRANE_RECEPTOR_PROTEIN_KINASE_ACTIVITY", "-0.2657", "0.6218", SALMON,
                C_es_transmembrane, ("marks", C_hits_transmembrane)),
               ("EXTRACELLULAR_MATRIX_STRUCTURAL_CONSTITUENT", "-0.3268", "0.6413", LAV,
                C_es_extracellular, ("marks", C_hits_extracellular))],
         es_ylim=(-0.46, 1.04), es_ticks=[-0.2, 0.0, 0.2, 0.4, 0.6, 0.8],
         es_extra=[0.9153, -0.3431],
         metric=M1, met_ylim=(-3.45, 2.41), met_ticks=[-3, -2, -1, 0, 1], met_extra=[1.97],
         met_nd=0, met_label=ML, met_ends=("1", "0")),
    dict(letter="D", letter_xy=(9, 1384), title="KEGG", title_xy=(519, 1397), title_fs=19.5,
         fx=(47.7, 518), fy=(1397.7, 1522.7, 1586, 1711.7), xlim=(-327, 20730), N=20450,
         fs_row=6.4, small=True,
         sets=[("ALDOSTERONE_REGULATED_SODIUM_REABSORPTION", "-0.5157", "0.0000", RED,
                D_es_aldosterone, ("marks", D_hits_aldosterone)),
               ("PPAR_SIGNALING_PATHWAY", "-0.4158", "0.0638", BLUE, D_es_ppar,
                ("marks", D_hits_ppar)),
               ("CELL_CYCLE", "0.5594", "0.0567", GREEN, D_es_cellcycle,
                ("marks", D_hits_cellcycle)),
               ("GLYCOSPHINGOLIPID_BIOSYNTHESIS_LACTO_AND_NEOLACTO_SERIES", "-0.3372", "0.0930",
                NAVY, D_es_glyco, ("marks", D_hits_glyco)),
               ("PATHWAYS_IN_CANCER", "0.2965", "0.1613", SALMON, D_es_pathways,
                ("marks", D_hits_pathways)),
               ("WNT_SIGNALING_PATHWAY", "0.2505", "0.4395", LAV, D_es_wnt, ("marks", D_hits_wnt)),
               ("PROGESTERONE_MEDIATED_OOCYTE_MATURATION", "0.2517", "0.4333", MINT,
                D_es_progesterone, ("marks", D_hits_progesterone))],
         es_ylim=(-0.57, 0.645), es_ticks=[-0.4, -0.2, 0.0, 0.2, 0.4], es_extra=[0.5594, -0.5157],
         metric=MD, met_ylim=(-5.6, 3.8), met_ticks=[-4, -2, 0, 2], met_extra=[3.1, -5.0],
         met_nd=0, met_label="Ranked list metric", met_ends=("0", "1")),
    dict(letter="E", letter_xy=(613, 37), title="BP", title_xy=(1154, 38),
         fx=(695.1, 1153.5), fy=(38.3, 153.3, 211, 326), xlim=(-532, 23850), N=23355, fs_row=8.3,
         sets=[("ORGANELLE_FISSION", "0.4980", "0.0929", RED, E_es_organelle,
                ("gaps", E_gaps_organelle)),
               ("RESPONSE_TO_OXYGEN_CONTAINING_COMPOUND", "-0.3680", "0.1922", BLUE, E_es_response,
                ("gaps", E_gaps_response))],
         es_ylim=(-0.448, 0.582), es_ticks=[-0.2, 0.0, 0.2, 0.4], es_extra=[0.498, -0.368],
         metric=M2, met_ylim=(-2.08, 1.82), met_ticks=[-1.5, -1.0, -0.5, 0.0, 0.5, 1.0],
         met_extra=[1.5, -1.74], met_nd=1, met_label=ML, met_ends=("1", "0")),
    dict(letter="F", letter_xy=(613, 462), title="CC", title_xy=(1156, 472),
         fx=(695, 1154), fy=(472.3, 591.7, 651.7, 771.7), xlim=(-532, 23850), N=23355, fs_row=8.3,
         sets=[("KINETOCHORE", "0.6429", "0.1349", RED, F_es_kinetochore,
                ("marks", F_hits_kinetochore)),
               ("CONDENSED_CHROMOSOME", "0.6265", "0.0609", BLUE, F_es_condensed,
                ("marks", F_hits_condensed))],
         es_ylim=(-0.077, 0.705), es_ticks=[0.0, 0.1, 0.2, 0.3, 0.4, 0.5, 0.6], es_extra=[0.6429],
         metric=M2, met_ylim=(-2.04, 1.83), met_ticks=[-1.5, -1.0, -0.5, 0.0, 0.5, 1.0],
         met_extra=[1.5, -1.74], met_nd=1, met_label=ML, met_ends=("1", "0")),
    dict(letter="G", letter_xy=(611, 931), title="MF", title_xy=(1156, 938),
         fx=(695.3, 1153.7), fy=(938.3, 1051.7, 1108.3, 1221.7), xlim=(-532, 23850), N=23355,
         fs_row=8.5,
         sets=[("KINETOCHORE_BINDING", "0.9194", "0.1363", RED, G_es_kinetochore,
                ("marks", G_hits_kinetochore)),
               ("TRANSMEMBRANE_RECEPTOR_PROTEIN_KINASE_ACTIVITY", "0.4259", "0.2763", BLUE,
                G_es_transmembrane, ("marks", G_hits_transmembrane)),
               ("SIGNALING_RECEPTOR_BINDING", "-0.3145", "0.4039", GREEN, G_es_signaling,
                ("gaps", G_gaps_signaling)),
               ("DRUG_BINDING", "-0.2835", "0.5539", NAVY, G_es_drug, ("marks", G_hits_drug)),
               ("KINASE_BINDING", "-0.2202", "0.7445", SALMON, G_es_kinase,
                ("gaps", G_gaps_kinase)),
               ("EXTRACELLULAR_MATRIX_STRUCTURAL_CONSTITUENT", "0.4458", "0.5614", LAV,
                G_es_extracellular, ("marks", G_hits_extracellular))],
         es_ylim=(-0.437, 1.034), es_ticks=[-0.2, 0.0, 0.2, 0.4, 0.6, 0.8],
         es_extra=[0.9194, -0.3145],
         metric=M2, met_ylim=(-2.05, 1.82), met_ticks=[-1.5, -1.0, -0.5, 0.0, 0.5, 1.0],
         met_extra=[1.5, -1.74], met_nd=1, met_label=ML, met_ends=("1", "0")),
    dict(letter="H", letter_xy=(613, 1384), title="KEGG", title_xy=(1158, 1401), title_fs=19.5,
         fx=(696.2, 1156), fy=(1401.7, 1523.3, 1586, 1708.3), xlim=(-528, 23760), N=23355,
         fs_row=8.5,
         sets=[("PPAR_SIGNALING_PATHWAY", "-0.6121", "0.1019", RED, H_es_ppar,
                ("marks", H_hits_ppar)),
               ("ALDOSTERONE_REGULATED_SODIUM_REABSORPTION", "-0.5879", "0.0359", BLUE,
                H_es_aldosterone, ("marks", H_hits_aldosterone)),
               ("CELL_CYCLE", "0.6796", "0.0264", GREEN, H_es_cellcycle,
                ("marks", H_hits_cellcycle)),
               ("PATHWAYS_IN_CANCER", "0.2824", "0.4836", NAVY, H_es_pathways,
                ("marks", H_hits_pathways)),
               ("PROGESTERONE_MEDIATED_OOCYTE_MATURATION", "0.3158", "0.4880", SALMON,
                H_es_progesterone, ("marks", H_hits_progesterone)),
               ("WNT_SIGNALING_PATHWAY", "0.2399", "0.6583", LAV, H_es_wnt, ("marks", H_hits_wnt))],
         es_ylim=(-0.694, 0.796), es_ticks=[-0.6, -0.4, -0.2, 0.0, 0.2, 0.4, 0.6],
         es_extra=[0.6796, -0.6121],
         metric=M2, met_ylim=(-2.05, 1.81), met_ticks=[-1.5, -1.0, -0.5, 0.0, 0.5, 1.0],
         met_extra=[1.5, -1.74], met_nd=1, met_label=ML, met_ends=("1", "0")),
]

for p in panels:
    draw_panel(p)

# ---------------------------------------------------------------- "RETRACTED" watermark
# white sheet over most of the page: the watermark is pale there and bright only at the edges
for (tx0, ty0, tx1, ty1) in [(42, 36, 1157, 1745), (0, 0, 1105, 36), (0, 0, 42, 1380)]:
    fig.patches.append(Rectangle((tx0 / W, 1 - ty1 / H), (tx1 - tx0) / W, (ty1 - ty0) / H,
                                 transform=fig.transFigure, facecolor="white",
                                 edgecolor="none", zorder=-5))
WM_CENTER = (632, 922)
WM_ANGLE = 54
wm_kw = dict(fontsize=250, fontweight="bold", family=["Liberation Sans", "DejaVu Sans"],
             ha="center", va="center", rotation=WM_ANGLE, rotation_mode="anchor")
fig.text(WM_CENTER[0] / W, 1 - WM_CENTER[1] / H, "RETRACTED", color="#EE4326", alpha=0.95,
         zorder=-10, **wm_kw)
fig.text(WM_CENTER[0] / W, 1 - WM_CENTER[1] / H, "RETRACTED", color="#EE4326", alpha=0.27,
         zorder=20, **wm_kw)

fig.savefig("out.png", dpi=100, facecolor="white")
